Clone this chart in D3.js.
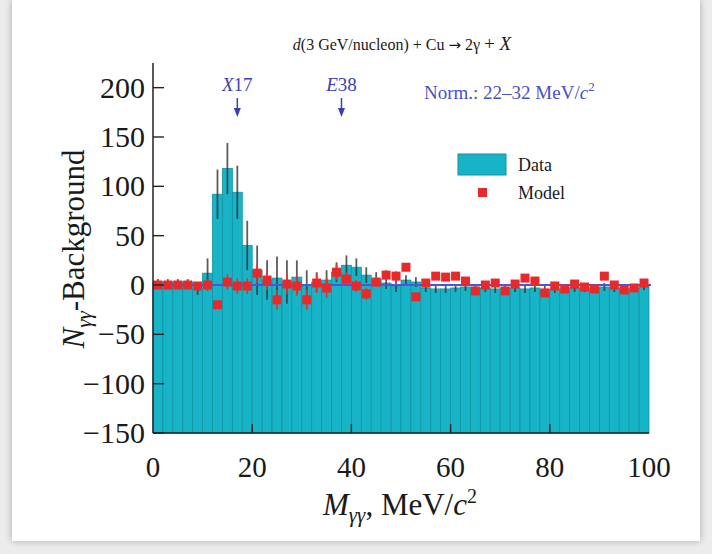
<!DOCTYPE html>
<html>
<head>
<meta charset="utf-8">
<script src="https://cdn.jsdelivr.net/npm/d3@7"></script>
<style>
  body { margin: 0; background: #ececec; width: 712px; height: 554px; overflow: hidden; }
  #card { position: absolute; left: 12px; top: 0; width: 688px; height: 541px; background: #fff;
          box-shadow: 0 0 7px rgba(0,0,0,0.28); }
  #chart { position: absolute; left: 0; top: 0; }
  text { font-family: "Liberation Serif", "DejaVu Serif", serif; }
</style>
</head>
<body>
<div id="card"></div>
<svg id="chart" width="712" height="554"></svg>
<script>
// bin centres (2 MeV bins)
const binCenters = d3.range(1, 100, 2);
const dataValues = [3, 3, 3, 3, -4, 12, 92, 118, 94, 40, 15, 5, 7, 3, 8, 0, 3, 5, 13, 20,
  18, 10, 6, 2, -1, 5, 3, -3, -4, -4, -3, -2, -4, -3, -4, -3, -3, -4, -3, -5,
  -4, -4, -3, -3, -3, -2, -3, -4, -3, -1];
const dataErrors = [3, 3, 3, 3, 6, 15, 25, 26, 27, 25, 25, 20, 22, 22, 17, 15, 10, 10, 10, 10,
  9, 8, 7, 6, 6, 5, 5, 4, 4, 4, 4, 4, 4, 4, 4, 4, 4, 4, 4, 4,
  4, 4, 4, 4, 4, 4, 4, 4, 4, 4];
const modelValues = [0, 0, 0, 0, -1, 0, -20, 3, -1, -1, 12, 5, -15, 1, -1, -15, 2, -3, 13, 6,
  -1, -9, 3, 10, 9, 18, -12, 2, 9, 8, 9, 4, -6, 0, 2, -6, 1, 7, 4, -8,
  -1, -4, 1, -2, -4, 9, 0, -5, -3, 2];
const modelErrors = [2, 2, 2, 2, 2, 6, 0, 8, 8, 8, 10, 10, 10, 10, 10, 10, 10, 10, 8, 7,
  6, 6, 5, 5, 5, 4, 4, 4, 4, 3, 3, 3, 3, 3, 3, 0, 0, 0, 0, 0,
  0, 0, 0, 0, 0, 0, 0, 0, 0, 0];
const xTicks = [0, 20, 40, 60, 80, 100];
const yTicks = [-150, -100, -50, 0, 50, 100, 150, 200];
const binWidth = 2;

const svg = d3.select("#chart");
const x = d3.scaleLinear().domain([0, 100]).range([153, 649]);
const y = d3.scaleLinear().domain([-150, 225]).range([433, 63]);

const bins = binCenters.map((c, i) => ({
  c, v: dataValues[i], e: dataErrors[i], m: modelValues[i], me: modelErrors[i]
}));

// histogram bars, filled from the bottom of the frame
svg.append("g").selectAll("rect").data(bins).join("rect")
  .attr("x", d => x(d.c - binWidth / 2))
  .attr("width", d => x(d.c + binWidth / 2) - x(d.c - binWidth / 2))
  .attr("y", d => y(d.v))
  .attr("height", d => y(-150) - y(d.v))
  .attr("fill", "#17b4c8")
  .attr("stroke", "#1293a4")
  .attr("stroke-width", 0.8);

// data error bars
svg.append("g").selectAll("line").data(bins).join("line")
  .attr("x1", d => x(d.c)).attr("x2", d => x(d.c))
  .attr("y1", d => y(d.v + d.e)).attr("y2", d => y(d.v - d.e))
  .attr("stroke", "#333").attr("stroke-opacity", 0.8).attr("stroke-width", 1.8);

// zero line
svg.append("line")
  .attr("x1", x(0)).attr("x2", x(100) + 2).attr("y1", y(0)).attr("y2", y(0))
  .attr("stroke", "#5054dc").attr("stroke-width", 2);

// model error bars and points
svg.append("g").selectAll("line").data(bins.filter(d => d.me > 0)).join("line")
  .attr("x1", d => x(d.c)).attr("x2", d => x(d.c))
  .attr("y1", d => y(d.m + d.me)).attr("y2", d => y(d.m - d.me))
  .attr("stroke", "#e8312f").attr("stroke-width", 1.6);
svg.append("g").selectAll("rect").data(bins).join("rect")
  .attr("x", d => x(d.c) - 4.5).attr("y", d => y(d.m) - 4.5)
  .attr("width", 9).attr("height", 9)
  .attr("fill", "#e8292b");

// axes
const axisColor = "#222";
svg.append("line").attr("x1", x(0)).attr("x2", x(0)).attr("y1", y(225)).attr("y2", y(-150))
  .attr("stroke", axisColor).attr("stroke-width", 1.5);
svg.append("line").attr("x1", x(0)).attr("x2", x(100)).attr("y1", y(-150)).attr("y2", y(-150))
  .attr("stroke", axisColor).attr("stroke-width", 1.5);

const yg = svg.append("g");
yg.selectAll("line").data(yTicks).join("line")
  .attr("x1", x(0)).attr("x2", x(0) + 11)
  .attr("y1", d => y(d)).attr("y2", d => y(d))
  .attr("stroke", axisColor).attr("stroke-width", 1.4);
yg.selectAll("text").data(yTicks).join("text")
  .attr("x", x(0) - 8).attr("y", d => y(d) + 10)
  .attr("text-anchor", "end").attr("font-size", 30).attr("fill", "#1a1a1a")
  .text(d => d < 0 ? "\u2212" + Math.abs(d) : d);

const xg = svg.append("g");
xg.selectAll("line").data(xTicks.slice(1, -1)).join("line")
  .attr("x1", d => x(d)).attr("x2", d => x(d))
  .attr("y1", y(-150)).attr("y2", y(-150) - 9)
  .attr("stroke", axisColor).attr("stroke-width", 1.4);
xg.selectAll("text").data(xTicks).join("text")
  .attr("x", d => x(d)).attr("y", 477)
  .attr("text-anchor", "middle").attr("font-size", 29).attr("fill", "#1a1a1a")
  .text(d => d);

// axis titles
const xt = svg.append("text").attr("x", 400).attr("y", 515).attr("text-anchor", "middle")
  .attr("font-size", 31).attr("fill", "#1a1a1a");
xt.append("tspan").attr("font-style", "italic").text("M");
xt.append("tspan").attr("font-style", "italic").attr("font-size", 21).attr("dy", 7).text("γγ");
xt.append("tspan").attr("dy", -7).text(", MeV/");
xt.append("tspan").attr("font-style", "italic").text("c");
xt.append("tspan").attr("font-size", 20).attr("dy", -12).text("2");

const yt = svg.append("text").attr("transform", "translate(84,249) rotate(-90)")
  .attr("text-anchor", "middle").attr("font-size", 31).attr("fill", "#1a1a1a");
yt.append("tspan").attr("font-style", "italic").text("N");
yt.append("tspan").attr("font-style", "italic").attr("font-size", 21).attr("dy", 7).text("γγ");
yt.append("tspan").attr("dy", -7).text("-Background");

// title
const tt = svg.append("text").attr("x", 402).attr("y", 50).attr("text-anchor", "middle")
  .attr("font-size", 16).attr("fill", "#1a1a1a");
tt.append("tspan").attr("font-style", "italic").text("d");
tt.append("tspan").text("(3 GeV/nucleon) + Cu ");
tt.append("tspan").attr("font-family", "DejaVu Sans").attr("font-size", 15).text("\u2192");
tt.append("tspan").text(" 2\u03b3 ");
tt.append("tspan").attr("font-size", 19).text("+ ");
tt.append("tspan").attr("font-style", "italic").attr("font-size", 19).text("X");

// annotations
const blue = "#3b3fb5";
const marks = [{ label: "X", num: "17", at: 17 }, { label: "E", num: "38", at: 38 }];
marks.forEach(m => {
  const t = svg.append("text").attr("x", x(m.at)).attr("y", 91).attr("text-anchor", "middle")
    .attr("font-size", 19).attr("fill", blue);
  t.append("tspan").attr("font-style", "italic").text(m.label);
  t.append("tspan").text(m.num);
  svg.append("line").attr("x1", x(m.at)).attr("x2", x(m.at)).attr("y1", 98).attr("y2", 110)
    .attr("stroke", blue).attr("stroke-width", 1.5);
  svg.append("path")
    .attr("d", `M${x(m.at) - 3.5},108 L${x(m.at) + 3.5},108 L${x(m.at)},117 Z`)
    .attr("fill", blue);
});
const nt = svg.append("text").attr("x", 424).attr("y", 99).attr("font-size", 19).attr("fill", "#4b4fc8");
nt.append("tspan").text("Norm.: 22\u201332 MeV/");
nt.append("tspan").attr("font-style", "italic").text("c");
nt.append("tspan").attr("font-size", 13).attr("dy", -8).text("2");

// legend
const lg = svg.append("g");
lg.append("rect").attr("x", 458).attr("y", 154).attr("width", 48).attr("height", 21)
  .attr("fill", "#17b4c8").attr("stroke", "#1293a4");
lg.append("text").attr("x", 518).attr("y", 171).attr("font-size", 18).attr("fill", "#1a1a1a").text("Data");
lg.append("rect").attr("x", 478).attr("y", 188).attr("width", 9).attr("height", 9).attr("fill", "#e8292b");
lg.append("text").attr("x", 518).attr("y", 199).attr("font-size", 18).attr("fill", "#1a1a1a").text("Model");
</script>
</body>
</html>
